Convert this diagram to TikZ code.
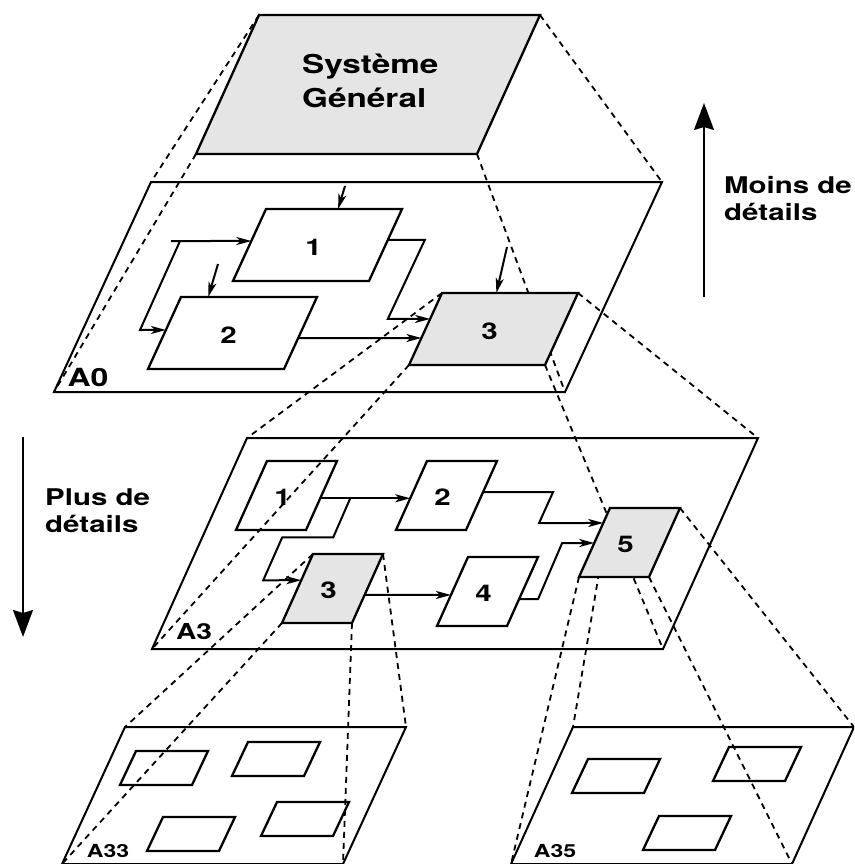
\documentclass[tikz,border=0pt]{standalone}
\usepackage{fontspec}
\setmainfont{TeX Gyre Heros}[FakeStretch=1.28]
\usetikzlibrary{arrows.meta,calc}

\definecolor{boxgray}{gray}{0.9}

\tikzset{
  plane/.style={line width=2pt},
  pbox/.style={line width=2.3pt},
  hot/.style={pbox, fill=boxgray},
  proj/.style={line width=1.8pt, dash pattern=on 6pt off 5pt},
  flow/.style={line width=2pt, -{Stealth[length=15pt,width=8pt,inset=4pt]}},
  bigarrow/.style={line width=2pt, -{Stealth[length=27pt,width=20pt,inset=3pt]}},
  lbl/.style={font=\fontsize{23}{26}\selectfont\bfseries, xshift=-4pt, yshift=-2pt},
  tag/.style={font=\fontsize{#1}{#1}\selectfont\bfseries, inner sep=0pt},
  side/.style={font=\fontsize{23}{27}\selectfont\bfseries, align=left, inner sep=0pt, anchor=west}
}

% corners of a slanted sheet: name, top left x, y, width, height, slant
\newcommand{\pgm}[6]{%
  \coordinate (#1-tl) at (#2,#3);
  \coordinate (#1-tr) at (#2+#4,#3);
  \coordinate (#1-br) at (#2+#4-#6,#3+#5);
  \coordinate (#1-bl) at (#2-#6,#3+#5);
}
\newcommand{\drawpgm}[2]{\draw[#1] (#2-tl) -- (#2-tr) -- (#2-br) -- (#2-bl) -- cycle;}

\begin{document}
\begin{tikzpicture}[x=1pt,y=-1pt]
	\useasboundingbox (0,0) rectangle (854,864);
	\clip (0,0) rectangle (854,864);

	\pgm{sys}{259}{15}{281}{139}{63}
	\pgm{a0}{151}{182}{511}{210}{97}
	\pgm{a3}{247}{438}{511}{211}{95}
	\pgm{a33}{125}{727}{281}{137}{63}
	\pgm{a35}{573}{727}{281}{137}{62}

	\pgm{b1}{266}{209}{136}{72}{33}
	\pgm{b2}{181}{297}{136}{72}{33}
	\pgm{b3}{442}{293}{136}{72}{33}

	\pgm{c1}{267}{461}{70}{69}{31}
	\pgm{c2}{427}{461}{70}{69}{31}
	\pgm{c3}{313}{554}{70}{69}{31}
	\pgm{c4}{468}{557}{70}{69}{31}
	\pgm{c5}{610}{508}{70}{69}{31}

	\foreach \p in {a0,a3,a33,a35} {\drawpgm{plane}{\p}}
	\drawpgm{hot}{sys}
	\foreach \p in {b1,b2,c1,c2,c4} {\drawpgm{pbox}{\p}}
	\foreach \x/\y in {136/751,248/742,163/817,277/802,588/759,729/747,659/816}
		\draw[pbox] (\x,\y) -- ++(72,0) -- ++(-16,34) -- ++(-72,0) -- cycle;

	% level A0
	\coordinate (in1) at (345,186);
	\coordinate (in2) at (218,264);
	\coordinate (in3) at (507,247);
	\coordinate (fb) at (171,241);
	\draw[flow] (in1) -- ($(b1-tl)!.53!(b1-tr)$);
	\draw[flow] (in2) -- ($(b2-tl)!.2!(b2-tr)$);
	\draw[flow] (in3) -- ($(b3-tl)!.4!(b3-tr)$);
	\draw[flow] (fb) -- ($(b1-tl)!.4444!(b1-bl)$);
	\draw[flow] (fb) ++(9,0) -- ++(-40,89) -- ($(b2-tl)!.458!(b2-bl)$);
	\draw[flow] ($(b1-tr)!.43!(b1-br)$) -- ++(37,0) -- ++(-37,79) -- ($(b3-tl)!.36!(b3-bl)$);
	\draw[flow] ($(b2-tr)!.57!(b2-br)$) -- ($(b3-tl)!.625!(b3-bl)$);

	% level A3
	\draw[flow] ($(c1-tr)!.54!(c1-br)$) -- ($(c2-tl)!.54!(c2-bl)$);
	\draw[flow] ($(c1-tr)!.54!(c1-br)$) ++(30,0) -- ++(-17,39) -- ++(-51,0) -- ++(-19,43) -- ($(c3-tl)!.38!(c3-bl)$);
	\draw[flow] ($(c2-tr)!.45!(c2-br)$) -- ++(70,0) -- ++(-14,31) -- ($(c5-tl)!.217!(c5-bl)$);
	\draw[flow] ($(c3-tr)!.594!(c3-br)$) -- ($(c4-tl)!.55!(c4-bl)$);
	\draw[flow] ($(c4-tr)!.61!(c4-br)$) -- ++(19,0) -- ++(24,-56) -- ($(c5-tl)!.507!(c5-bl)$);

	\foreach \c in {tl,tr,br,bl} {
		\draw[proj] (sys-\c) -- (a0-\c);
		\draw[proj] (b3-\c) -- (a3-\c);
		\draw[proj] (c3-\c) -- (a33-\c);
		\draw[proj] (c5-\c) -- (a35-\c);
	}
	\foreach \p in {b3,c3,c5} {\drawpgm{hot}{\p}}

	\foreach \p/\t in {b1/1,b2/2,b3/3,c1/1,c2/2,c3/3,c4/4,c5/5}
		\node[lbl] (l-\p) at ($(\p-tl)!.5!(\p-br)$) {\t};

	\node[font=\fontsize{26}{34}\selectfont\bfseries, align=left, inner sep=0pt, anchor=west] (title) at (302,81) {Système\\Général};
	\node[tag=25] (t0) at (88,377) {A0};
	\node[tag=22] (t3) at (194,632) {A3};
	\node[tag=18] (t33) at (108,851) {A33};
	\node[tag=18] (t35) at (555,851) {A35};

	\coordinate (up0) at (704,297);
	\coordinate (up1) at (704,103);
	\draw[bigarrow] (up0) -- (up1);
	\node[side] (less) at (724,199) {Moins de\\détails};
	\coordinate (dn0) at (23,437);
	\coordinate (dn1) at (23,637);
	\draw[bigarrow] (dn0) -- (dn1);
	\node[side] (more) at (45,511) {Plus de\\détails};
\end{tikzpicture}
\end{document}
